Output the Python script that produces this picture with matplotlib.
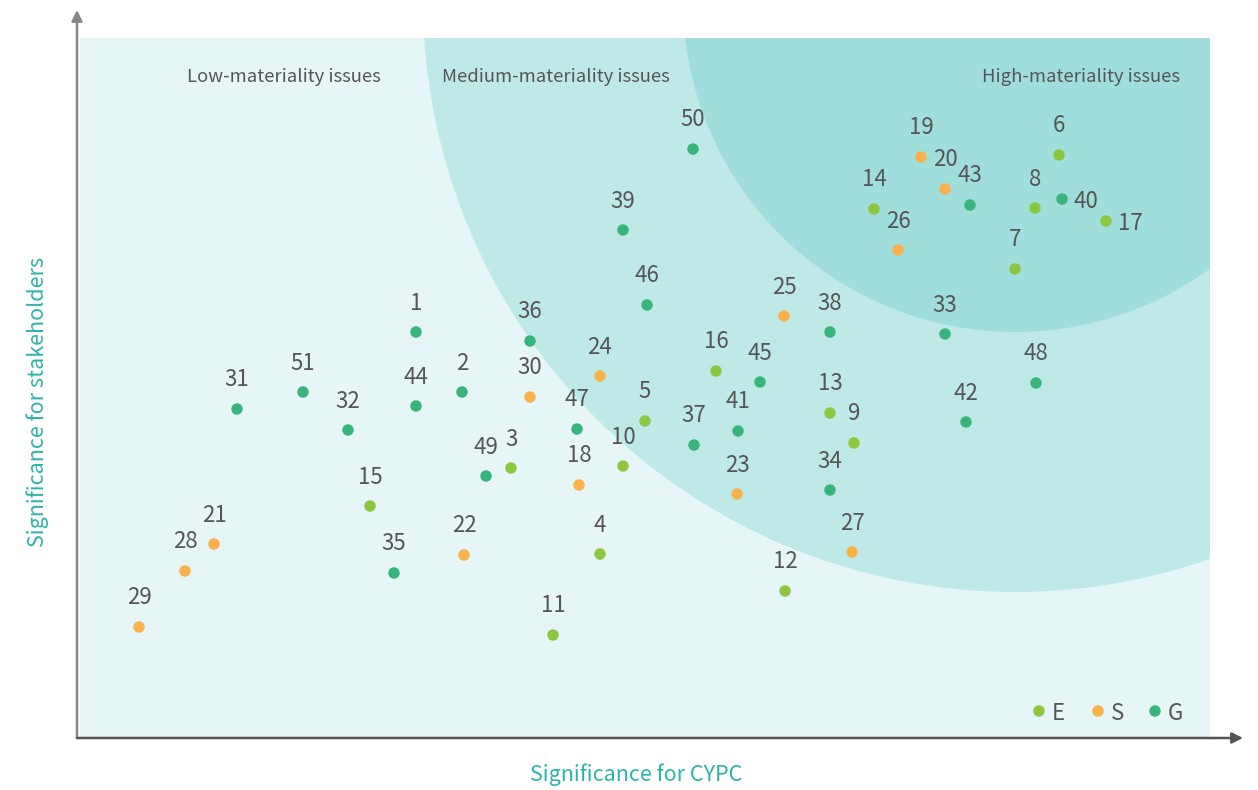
import matplotlib
matplotlib.use("Agg")
import matplotlib.pyplot as plt
from matplotlib.patches import Rectangle, Circle

plt.rcParams['font.family'] = ['Noto Sans CJK SC', 'DejaVu Sans']

# issue numbers and positions (significance for CYPC, significance for stakeholders)
e_ids = [6, 8, 17, 7, 14, 13, 9, 5, 10, 3, 15, 4, 11, 12, 16]
e_x = [982, 958, 1029, 938, 797, 753, 777, 568, 546, 434, 293, 523, 476, 708, 639]
e_y = [583, 530, 517, 469, 529, 325, 295, 317, 272, 270, 232, 184, 103, 147, 367]

s_ids = [19, 20, 26, 25, 24, 30, 18, 23, 27, 22, 21, 28, 29]
s_x = [844, 868, 821, 707, 523, 453, 502, 660, 775, 387, 137, 108, 62]
s_y = [581, 549, 488, 422, 362, 341, 253, 244, 186, 183, 194, 167, 111]

g_ids = [50, 39, 46, 43, 40, 33, 48, 42, 38, 45, 41, 37, 34, 36, 47, 49,
         1, 2, 44, 32, 51, 31, 35]
g_x = [616, 546, 570, 893, 985, 868, 959, 889, 753, 683, 661, 617, 753, 453,
       500, 409, 339, 385, 339, 271, 226, 160, 317]
g_y = [589, 508, 433, 533, 539, 404, 355, 316, 406, 356, 307, 293, 248, 397,
       309, 262, 406, 346, 332, 308, 346, 329, 165]

# these two carry their number on the right instead of above
right_labels = [40, 17]

colors = {'E': '#8DC63F', 'S': '#F9B24B', 'G': '#38B47D'}
text_gray = '#555555'
teal = '#2BB5AA'

fig = plt.figure(figsize=(12.58, 7.90), dpi=100)
ax = fig.add_axes([0, 0, 1, 1])
ax.set_xlim(-77, 1181)
ax.set_ylim(-52, 738)
ax.axis('off')

# background zones
bg = Rectangle((3, 0), 1130, 700, facecolor='#E6F5F5', edgecolor='none', zorder=0)
ax.add_patch(bg)
for r, c in [(592, '#BFE9E7'), (332, '#9FDEDB')]:
    circ = Circle((938, 738), r, facecolor=c, edgecolor='none', zorder=1)
    ax.add_patch(circ)
    circ.set_clip_path(bg)

# axes with arrows
ax.annotate('', xy=(0, 728), xytext=(0, 0),
            arrowprops=dict(arrowstyle='-|>', color='#888888', lw=1.8, mutation_scale=16,
                            shrinkA=0, shrinkB=0), zorder=3)
ax.annotate('', xy=(1166, 0), xytext=(0, 0),
            arrowprops=dict(arrowstyle='-|>', color='#555555', lw=1.8, mutation_scale=16,
                            shrinkA=0, shrinkB=0), zorder=3)

# zone titles
for txt, x in [('Low-materiality issues', 207), ('Medium-materiality issues', 479),
               ('High-materiality issues', 1004)]:
    ax.text(x, 661, txt, ha='center', va='center', fontsize=13.3, color=text_gray)

# points and labels
for ids, xs, ys, key in [(e_ids, e_x, e_y, 'E'), (s_ids, s_x, s_y, 'S'), (g_ids, g_x, g_y, 'G')]:
    ax.scatter(xs, ys, s=68, color=colors[key], edgecolors='none', zorder=4)
    for i, x, y in zip(ids, xs, ys):
        if i in right_labels:
            ax.text(x + 12, y - 2, str(i), ha='left', va='center', fontsize=16, color=text_gray, zorder=5)
        else:
            ax.text(x, y + 29, str(i), ha='center', va='center', fontsize=16, color=text_gray, zorder=5)

# legend
for key, x in [('E', 962), ('S', 1021), ('G', 1078)]:
    ax.scatter([x], [27], s=68, color=colors[key], edgecolors='none', zorder=4)
    ax.text(x + 13, 25, key, ha='left', va='center', fontsize=16, color=text_gray, zorder=5)

# axis titles
ax.text(559, -37, 'Significance for CYPC', ha='center', va='center', fontsize=15.5, color=teal)
ax.text(-39, 336, 'Significance for stakeholders', ha='center', va='center', fontsize=15.5,
        color=teal, rotation=90)

fig.savefig('out.png', dpi=100)
